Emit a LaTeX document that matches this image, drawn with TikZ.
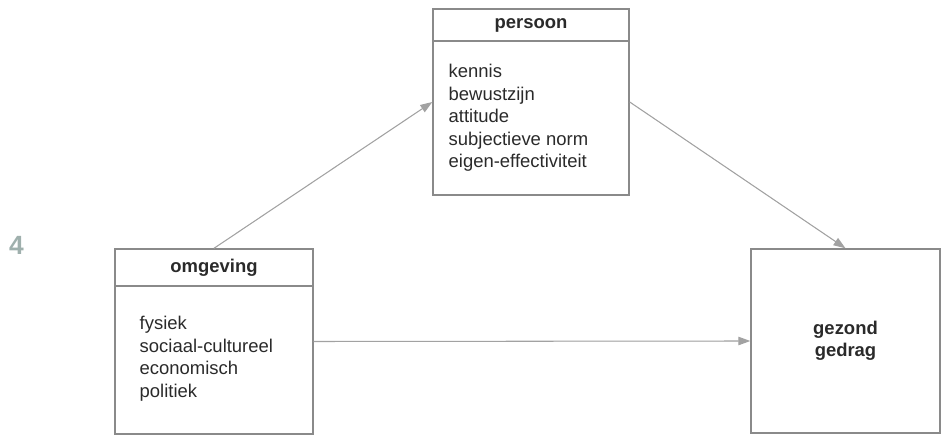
\documentclass[tikz,border=0pt]{standalone}
\usepackage{fontspec}
\setmainfont{Liberation Sans}
\usetikzlibrary{arrows.meta}
\definecolor{randgrijs}{HTML}{8A8A8A}
\definecolor{pijlgrijs}{HTML}{A2A2A2}
\definecolor{tekstgrijs}{HTML}{2A2A2A}
\definecolor{nummer}{HTML}{9FB0AD}

\begin{document}
\begin{tikzpicture}[line width=0.8pt,>={Triangle[length=2.4mm,width=1.7mm]},
  kader/.style={draw=randgrijs,rectangle,inner sep=0pt},
  kop/.style={kader,font=\fontsize{10.5}{12.8}\selectfont\bfseries,text=tekstgrijs},
  lijst/.style={inner sep=0pt,align=left,anchor=west,text=tekstgrijs,
    font=\fontsize{10.5}{12.8}\selectfont},
  pijl/.style={->,draw=pijlgrijs,fill=pijlgrijs,line width=0.6pt}]
\useasboundingbox (0,0) rectangle (18.82,8.72);
% ---------- nummer ----------
\node[text=nummer,font=\fontsize{15}{17}\selectfont\bfseries] (nr) at (0.33,3.82) {4};
% ---------- persoon ----------
\node[kader,minimum width=3.92cm,minimum height=3.72cm] (persoon) at (10.62,6.68) {};
\node[kop,minimum width=3.92cm,minimum height=0.64cm,anchor=north] (persoonkop)
  at (persoon.north) {persoon};
\node[lijst] (persoontekst) at (8.96,6.36)
  {kennis\\bewustzijn\\attitude\\subjectieve norm\\eigen-effectiviteit};
% ---------- omgeving ----------
\node[kader,minimum width=3.96cm,minimum height=3.70cm] (omgeving) at (4.28,1.89) {};
\node[kop,minimum width=3.96cm,minimum height=0.74cm,anchor=north] (omgevingkop)
  at (omgeving.north) {omgeving};
\node[lijst] (omgevingtekst) at (2.78,1.55)
  {fysiek\\sociaal-cultureel\\economisch\\politiek};
% ---------- gezond gedrag ----------
\node[kader,minimum width=3.78cm,minimum height=3.68cm,align=center,
  font=\fontsize{10.5}{12.8}\selectfont\bfseries,text=tekstgrijs] (gedrag)
  at (16.91,1.90) {gezond\\gedrag};
% ---------- pijlen ----------
\draw[pijl] (omgeving.north) -- (persoon.west);
\draw[pijl] (persoon.east) -- (gedrag.north);
\draw[pijl] (omgeving.east) -- (gedrag.west);
\end{tikzpicture}
\end{document}
